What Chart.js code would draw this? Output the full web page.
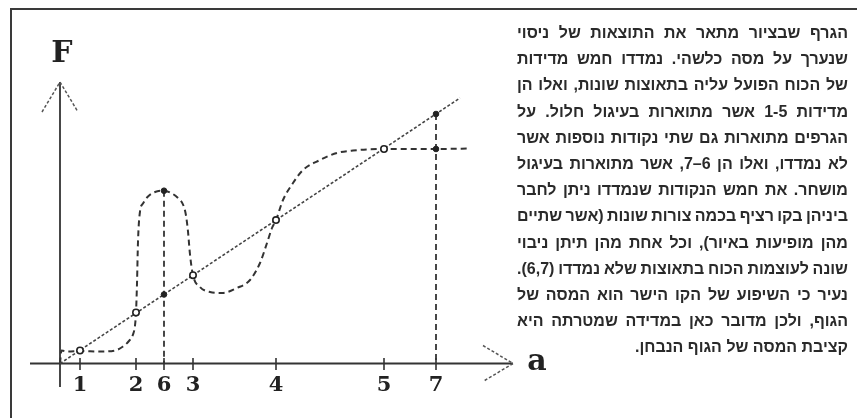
<!DOCTYPE html>
<html lang="he">
<head>
<meta charset="utf-8">
<title>F(a)</title>
<script src="https://cdn.jsdelivr.net/npm/chart.js@4.4.1/dist/chart.umd.min.js"></script>
<style>
  html, body { margin: 0; padding: 0; background: #fff; }
  body { width: 857px; height: 418px; position: relative; overflow: hidden; }
  #frame { position: absolute; left: 10px; top: 8px; width: 900px; height: 460px;
           border-top: 2px solid #3a3a3a; border-left: 2px solid #3a3a3a; }
  #plot { position: absolute; left: 0; top: 0; }
  #note { position: absolute; left: 517px; top: 20px; width: 331px; direction: rtl;
          font-family: "Liberation Sans", "DejaVu Sans", sans-serif; font-size: 16px;
          font-weight: bold; color: #2a2a2a; }
  #note div { height: 26.2px; line-height: 26.2px; white-space: nowrap; word-spacing: -1.6px;
              text-align: justify; text-align-last: justify; }
  #note div.last { text-align-last: right; word-spacing: 0; }
</style>
</head>
<body>
<div id="frame"></div>
<canvas id="plot" width="560" height="418"></canvas>
<div id="note">
  <div>הגרף שבציור מתאר את התוצאות של ניסוי</div>
  <div>שנערך על מסה כלשהי. נמדדו חמש מדידות</div>
  <div>של הכוח הפועל עליה בתאוצות שונות, ואלו הן</div>
  <div>מדידות 1-5 אשר מתוארות בעיגול חלול. על</div>
  <div>הגרפים מתוארות גם שתי נקודות נוספות אשר</div>
  <div>לא נמדדו, ואלו הן 6–7, אשר מתוארות בעיגול</div>
  <div>מושחר. את חמש הנקודות שנמדדו ניתן לחבר</div>
  <div>ביניהן בקו רציף בכמה צורות שונות (אשר שתיים</div>
  <div>מהן מופיעות באיור), וכל אחת מהן תיתן ניבוי</div>
  <div>שונה לעוצמות הכוח בתאוצות שלא נמדדו (6,7).</div>
  <div>נעיר כי השיפוע של הקו הישר הוא המסה של</div>
  <div>הגוף, ולכן מדובר כאן במדידה שמטרתה היא</div>
  <div class="last">קציבת המסה של הגוף הנבחן.</div>
</div>
<script>
// Acceleration positions of the labelled marks on the a axis, and their labels
const tickA = [2.0, 7.6, 10.4, 13.3, 21.6, 32.4, 37.6];
const tickLabels = ['1', '2', '6', '3', '4', '5', '7'];

// Measured points 1-5 (hollow)
const measuredA = [2.0, 7.6, 13.3, 21.6, 32.4];
const measuredF = [1.3, 5.1, 8.83, 14.34, 21.45];

// Unmeasured points 6 and 7 (filled): value on the straight line and on the curve
const predictedA = [10.4, 37.6];
const predictedLineF = [6.9, 24.95];
const predictedCurveF = [17.28, 21.45];

// Straight line through the origin (slope = mass)
const lineA = [0, 40.0];
const lineF = [0, 26.55];

// One possible smooth curve through the five measurements
const curveA = [0.0, 0.15, 0.8, 2.0, 4.0, 5.5, 6.3, 6.85, 7.3, 7.5, 7.6, 7.7, 7.8, 8.0, 8.3, 8.8,
                9.5, 10.4, 11.2, 11.8, 12.3, 12.6, 12.8, 13.0, 13.3, 14.0, 15.0, 16.2, 17.7, 19.0,
                20.0, 20.7, 21.2, 21.6, 22.3, 23.3, 24.3, 26.0, 27.7, 29.3, 32.4, 37.6, 41.0];
const curveF = [0.0, 1.3, 1.2, 1.25, 1.2, 1.3, 1.7, 2.2, 2.9, 3.8, 5.1, 8.0, 12.2, 15.2, 16.0, 16.7,
                17.15, 17.28, 17.0, 16.55, 15.9, 14.8, 13.2, 10.9, 8.83, 7.65, 7.15, 7.05, 7.55, 8.35,
                10.05, 12.05, 13.55, 14.34, 16.35, 18.05, 19.35, 20.35, 21.05, 21.3, 21.45, 21.45, 21.5];

const pts = (xs, ys) => xs.map((x, i) => ({ x, y: ys[i] }));

const INK = '#333333';

// Axes with arrowheads, tick marks and labels, drawn from the chart's own scales
const figureAxes = {
  id: 'figureAxes',
  beforeDatasetsDraw(chart) {
    const { ctx, scales: { x, y } } = chart;
    const x0 = x.getPixelForValue(0), y0 = y.getPixelForValue(0);
    const xL = x.getPixelForValue(-3), xR = x.getPixelForValue(45.3);
    const yT = y.getPixelForValue(28.15), yB = y.getPixelForValue(-2.35);
    ctx.save();
    ctx.strokeStyle = INK;
    ctx.lineWidth = 1.8;
    ctx.beginPath();
    ctx.moveTo(xL, y0); ctx.lineTo(xR, y0);
    ctx.moveTo(x0, yB); ctx.lineTo(x0, yT);
    ctx.stroke();
    ctx.lineWidth = 1.6;
    tickA.forEach(a => {
      const px = x.getPixelForValue(a);
      ctx.beginPath(); ctx.moveTo(px, y0 - 5.5); ctx.lineTo(px, y0 + 6.5); ctx.stroke();
    });
    ctx.setLineDash([3, 2]);
    ctx.lineWidth = 1.5;
    ctx.strokeStyle = '#555';
    ctx.beginPath();
    ctx.moveTo(x0 - 18, yT + 30); ctx.lineTo(x0, yT); ctx.lineTo(x0 + 18, yT + 30);
    ctx.stroke();
    ctx.beginPath();
    ctx.moveTo(xR - 30, y0 - 18); ctx.lineTo(xR, y0); ctx.lineTo(xR - 30, y0 + 18);
    ctx.stroke();
    ctx.restore();
  },
  afterDraw(chart) {
    const { ctx, scales: { x, y } } = chart;
    const x0 = x.getPixelForValue(0), y0 = y.getPixelForValue(0);
    ctx.save();
    ctx.fillStyle = '#222';
    ctx.textAlign = 'center';
    ctx.textBaseline = 'middle';
    ctx.font = 'bold 21px "DejaVu Serif", "Liberation Serif", serif';
    tickA.forEach((a, i) => ctx.fillText(tickLabels[i], x.getPixelForValue(a), y0 + 22));
    ctx.font = 'bold 30px "DejaVu Serif", "Liberation Serif", serif';
    ctx.fillText('F', x0 + 2, y.getPixelForValue(30.9));
    ctx.fillText('a', x.getPixelForValue(47.7), y0 - 1);
    ctx.restore();
  }
};

const dropLines = predictedA.map((a, i) => ({
  data: [{ x: a, y: Math.max(predictedLineF[i], predictedCurveF[i]) }, { x: a, y: 0 }],
  showLine: true, borderColor: INK, borderWidth: 1.8, borderDash: [6, 4],
  pointRadius: 0, tension: 0, order: 4
}));

new Chart(document.getElementById('plot'), {
  type: 'scatter',
  data: {
    datasets: [
      { data: pts(measuredA, measuredF), pointRadius: 3.2, pointBackgroundColor: '#fff',
        pointBorderColor: '#222', pointBorderWidth: 1.6, showLine: false, order: 0 },
      { data: pts(predictedA, predictedLineF), pointRadius: 2.8, pointBackgroundColor: '#222',
        pointBorderColor: '#222', pointBorderWidth: 1, showLine: false, order: 0 },
      { data: pts(predictedA, predictedCurveF), pointRadius: 2.8, pointBackgroundColor: '#222',
        pointBorderColor: '#222', pointBorderWidth: 1, showLine: false, order: 0 },
      { data: pts(lineA, lineF), showLine: true, borderColor: '#444', borderWidth: 1.6,
        borderDash: [3, 2], pointRadius: 0, tension: 0, order: 5 },
      { data: pts(curveA, curveF), showLine: true, borderColor: INK, borderWidth: 2,
        borderDash: [6, 4], pointRadius: 0, cubicInterpolationMode: 'monotone', order: 5 },
      ...dropLines
    ]
  },
  options: {
    responsive: false,
    animation: false,
    events: [],
    layout: { padding: 0, autoPadding: false },
    plugins: { legend: { display: false }, tooltip: { enabled: false } },
    scales: {
      x: { type: 'linear', display: false, min: -6, max: 50 },
      y: { type: 'linear', display: false, min: -5.45, max: 36.35 }
    }
  },
  plugins: [figureAxes]
});
</script>
</body>
</html>
